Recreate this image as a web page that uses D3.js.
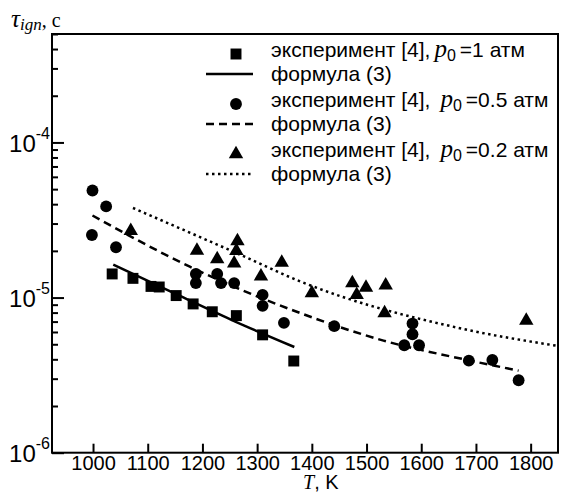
<!DOCTYPE html>
<html>
<head>
<meta charset="utf-8">
<script src="https://cdn.jsdelivr.net/npm/d3@7"></script>
<style>
  body { margin: 0; background: #fff; }
  svg { display: block; }
  text { font-family: 'Liberation Sans', Arial, sans-serif; fill: #000; }
  .serif { font-family: 'Liberation Serif', 'DejaVu Serif', serif; font-style: italic; }
</style>
</head>
<body>
<svg id="chart" width="562" height="494"></svg>
<script>
// experiment [4], p0 = 1 atm (squares)
const sq_T = [1035, 1073, 1106, 1121, 1152, 1183, 1218, 1262, 1310, 1367];
const sq_tau = [1.42e-5, 1.33e-5, 1.18e-5, 1.17e-5, 1.03e-5, 9.1e-6, 8.1e-6, 7.65e-6, 5.75e-6, 3.9e-6];

// experiment [4], p0 = 0.5 atm (circles)
const ci_T = [999, 1024, 998, 1042, 1188, 1188, 1227, 1234, 1258, 1310, 1310, 1349,
  1441, 1584, 1584, 1569, 1596, 1687, 1730, 1778];
const ci_tau = [4.9e-5, 3.87e-5, 2.53e-5, 2.11e-5, 1.42e-5, 1.24e-5, 1.42e-5, 1.24e-5,
  1.24e-5, 1.04e-5, 8.84e-6, 6.87e-6, 6.54e-6, 6.8e-6, 5.8e-6, 4.93e-6, 4.93e-6,
  3.92e-6, 3.96e-6, 2.93e-6];

// experiment [4], p0 = 0.2 atm (triangles)
const tr_T = [1069, 1190, 1227, 1264, 1262, 1258, 1307, 1345, 1400, 1474, 1482, 1499, 1535, 1533, 1792];
const tr_tau = [2.69e-5, 2.01e-5, 1.77e-5, 2.31e-5, 2.0e-5, 1.66e-5, 1.37e-5, 1.68e-5,
  1.07e-5, 1.24e-5, 1.04e-5, 1.16e-5, 1.2e-5, 7.95e-6, 7.1e-6];

// formula (3) curves
const f1_T = [1037, 1150, 1260, 1368];
const f1_tau = [1.63e-5, 1.06e-5, 7.0e-6, 4.8e-6];
const f05_T = [999, 1177, 1379, 1531, 1684, 1778];
const f05_tau = [3.38e-5, 1.58e-5, 7.94e-6, 5.28e-6, 3.96e-6, 3.38e-6];
const f02_T = [1073, 1263, 1379, 1684, 1851];
const f02_tau = [3.78e-5, 1.93e-5, 1.27e-5, 6.2e-6, 4.87e-6];

const x_ticks = [1000, 1100, 1200, 1300, 1400, 1500, 1600, 1700, 1800];
const y_major = [1e-6, 1e-5, 1e-4];
const y_exps = ['-6', '-5', '-4'];

const legend_pressure = ['1', '0.5', '0.2'];

const plot = { left: 52, right: 558, top: 34, bottom: 452.7 };
const svg = d3.select('#chart');

const x = d3.scaleLinear().domain([925, 1850]).range([plot.left, plot.right]);
const y = d3.scaleLog().domain([1e-6, 5e-4]).range([plot.bottom, plot.top]);

const zip = (a, b) => a.map((v, i) => [v, b[i]]);

// clip for lines
svg.append('clipPath').attr('id', 'clip')
  .append('rect').attr('x', plot.left).attr('y', plot.top)
  .attr('width', plot.right - plot.left).attr('height', plot.bottom - plot.top);

// x axis
const gx = svg.append('g')
  .attr('transform', `translate(0,${plot.bottom})`)
  .call(d3.axisBottom(x).tickValues(x_ticks).tickFormat(d3.format('d'))
    .tickSizeInner(-9).tickSizeOuter(0).tickPadding(3));
gx.select('.domain').remove();
gx.selectAll('.tick line').attr('stroke', '#000').attr('stroke-width', 2);
gx.selectAll('.tick text').attr('font-size', 20).attr('fill', '#000');

// y axis minor ticks
const y_minor = [];
for (let e = -6; e < -3; e++) {
  for (let m = 2; m <= 9; m++) {
    const v = m * Math.pow(10, e);
    if (v <= 5e-4) y_minor.push(v);
  }
}
const gym = svg.append('g')
  .attr('transform', `translate(${plot.left},0)`)
  .call(d3.axisLeft(y).tickValues(y_minor).tickSizeInner(-6).tickSizeOuter(0).tickFormat(''));
gym.select('.domain').remove();
gym.selectAll('.tick line').attr('stroke', '#000').attr('stroke-width', 2);

const gy = svg.append('g')
  .attr('transform', `translate(${plot.left},0)`)
  .call(d3.axisLeft(y).tickValues(y_major).tickSizeInner(-12).tickSizeOuter(0).tickPadding(2));
gy.select('.domain').remove();
gy.selectAll('.tick line').attr('stroke', '#000').attr('stroke-width', 2);
gy.selectAll('.tick text')
  .attr('font-size', 24)
  .attr('dy', 9)
  .attr('x', -2)
  .attr('fill', '#000')
  .text(null)
  .each(function (d, i) {
    const t = d3.select(this);
    t.append('tspan').text('10');
    t.append('tspan').attr('font-size', 16).attr('dy', -13).text(y_exps[i]);
  });

// frame
svg.append('rect')
  .attr('x', plot.left).attr('y', plot.top)
  .attr('width', plot.right - plot.left).attr('height', plot.bottom - plot.top)
  .attr('fill', 'none').attr('stroke', '#000').attr('stroke-width', 2);

// formula lines
const line = d3.line().x(d => x(d[0])).y(d => y(d[1])).curve(d3.curveMonotoneX);
const curves = [
  { data: zip(f1_T, f1_tau), dash: null },
  { data: zip(f05_T, f05_tau), dash: '8 5' },
  { data: zip(f02_T, f02_tau), dash: '2.5 3.5' }
];
svg.append('g').attr('clip-path', 'url(#clip)')
  .selectAll('path')
  .data(curves)
  .join('path')
  .attr('d', d => line(d.data))
  .attr('fill', 'none')
  .attr('stroke', '#000')
  .attr('stroke-width', 2.5)
  .attr('stroke-dasharray', d => d.dash);

// markers
const symbols = [
  { type: d3.symbolSquare, size: 120, data: zip(sq_T, sq_tau) },
  { type: d3.symbolCircle, size: 110, data: zip(ci_T, ci_tau) },
  { type: d3.symbolTriangle, size: 90, data: zip(tr_T, tr_tau) }
];
symbols.forEach(s => {
  svg.append('g')
    .selectAll('path')
    .data(s.data)
    .join('path')
    .attr('transform', d => `translate(${x(d[0])},${y(d[1])})`)
    .attr('d', d3.symbol().type(s.type).size(s.size))
    .attr('fill', '#000');
});

// legend
const lg = svg.append('g');
const gaps = [4, 10, 10];
legend_pressure.forEach((p, i) => {
  const ys = 57 + i * 50;
  const yl = ys + 24;
  lg.append('path')
    .attr('transform', `translate(236,${ys - 3})`)
    .attr('d', d3.symbol().type(symbols[i].type).size(symbols[i].size)())
    .attr('fill', '#000');
  const t = lg.append('text').attr('x', 271).attr('y', ys).attr('font-size', 21);
  t.append('tspan').text('эксперимент [4],');
  t.append('tspan').attr('class', 'serif').attr('font-size', 25).attr('dx', gaps[i]).text('p');
  t.append('tspan').attr('font-size', 16).attr('dy', 4).text('0');
  t.append('tspan').attr('dy', -4).attr('dx', 4).text('=' + p + ' атм');

  lg.append('line')
    .attr('x1', 206).attr('x2', 253)
    .attr('y1', yl - 7).attr('y2', yl - 7)
    .attr('stroke', '#000').attr('stroke-width', 2.5)
    .attr('stroke-dasharray', curves[i].dash);
  lg.append('text').attr('x', 271).attr('y', yl).attr('font-size', 21).text('формула (3)');
});

// axis titles
const xt = svg.append('text').attr('x', 303).attr('y', 489).attr('font-size', 20);
xt.append('tspan').attr('class', 'serif').text('T');
xt.append('tspan').text(', K');

const yt = svg.append('text').attr('x', 11).attr('y', 27).attr('font-size', 25);
yt.append('tspan').attr('class', 'serif').text('τ');
yt.append('tspan').attr('class', 'serif').attr('font-size', 17).attr('dy', 3).text('ign');
yt.append('tspan').attr('font-family', 'Liberation Serif, serif').attr('font-size', 20).attr('dy', -3).text(', с');
</script>
</body>
</html>
